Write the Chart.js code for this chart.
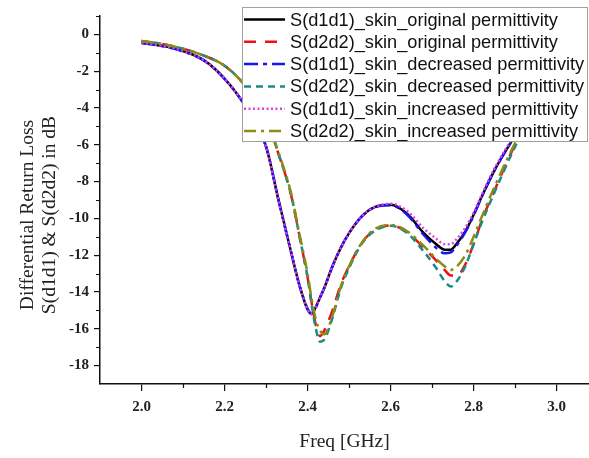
<!DOCTYPE html>
<html>
<head>
    <meta charset="utf-8">
    <title>Differential Return Loss</title>
    <script src="https://cdn.jsdelivr.net/npm/chart.js@4.4.0/dist/chart.umd.min.js"></script>
    <style>
        body { margin: 0; background: #fff; }
        #wrap { width: 589px; height: 458px; }
    </style>
</head>
<body>
    <div id="wrap"><canvas id="myChart"></canvas></div>
    <script>
        // frequency grid [GHz]
        const freq = [2.0, 2.05, 2.1, 2.15, 2.2, 2.25, 2.3, 2.33, 2.36, 2.38, 2.4, 2.41, 2.42, 2.43, 2.44, 2.46, 2.48, 2.5,
            2.53, 2.56, 2.6, 2.64, 2.68, 2.71, 2.73, 2.745, 2.76, 2.78, 2.8, 2.82, 2.85, 2.9, 2.95, 3.0];

        // S-parameters in dB
        const d1d1Original = [-0.45, -0.62, -0.9, -1.4, -2.4, -3.9, -6.1, -9.0, -11.8, -13.6, -14.95, -15.2, -14.8, -14.3, -13.8, -12.6, -11.6, -10.8,
            -9.9, -9.4, -9.26, -9.75, -10.8, -11.4, -11.7, -11.7, -11.35, -10.7, -9.8, -8.8, -7.4, -5.5, -3.7, -2.2];
        const d2d2Original = [-0.36, -0.52, -0.78, -1.15, -1.7, -2.8, -4.6, -6.5, -8.7, -10.9, -13.2, -14.6, -15.8, -16.4, -16.1, -15.0, -13.6, -12.6,
            -11.35, -10.65, -10.38, -10.75, -11.6, -12.3, -12.8, -13.1, -13.1, -12.5, -11.4, -10.1, -8.5, -6.0, -4.0, -2.4];
        const d1d1Decreased = [-0.47, -0.64, -0.92, -1.42, -2.42, -3.9, -6.1, -9.0, -11.8, -13.6, -14.9, -15.2, -14.85, -14.3, -13.8, -12.6, -11.6, -10.8,
            -9.9, -9.4, -9.28, -9.8, -10.9, -11.6, -11.9, -11.85, -11.45, -10.75, -9.85, -8.8, -7.4, -5.5, -3.7, -2.2];
        const d2d2Decreased = [-0.36, -0.52, -0.78, -1.15, -1.7, -2.8, -4.6, -6.5, -8.7, -10.9, -13.2, -14.7, -16.0, -16.7, -16.6, -15.4, -13.8, -12.7,
            -11.4, -10.7, -10.4, -10.8, -11.8, -12.7, -13.4, -13.7, -13.4, -12.6, -11.4, -10.2, -8.6, -6.1, -4.0, -2.4];
        const d1d1Increased = [-0.45, -0.62, -0.9, -1.4, -2.4, -3.9, -6.1, -9.0, -11.8, -13.6, -14.95, -15.2, -14.8, -14.3, -13.8, -12.6, -11.6, -10.8,
            -9.9, -9.4, -9.2, -9.6, -10.55, -11.1, -11.4, -11.4, -11.1, -10.5, -9.7, -8.7, -7.3, -5.4, -3.6, -2.2];
        const d2d2Increased = [-0.36, -0.52, -0.78, -1.15, -1.7, -2.8, -4.5, -6.4, -8.6, -10.8, -13.0, -14.4, -15.5, -16.1, -16.3, -15.3, -13.7, -12.6,
            -11.35, -10.6, -10.35, -10.7, -11.5, -12.2, -12.6, -12.8, -12.6, -12.0, -11.0, -9.9, -8.3, -5.9, -3.9, -2.3];

        const seriesNames = [
            'S(d1d1)_skin_original permittivity',
            'S(d2d2)_skin_original permittivity',
            'S(d1d1)_skin_decreased permittivity',
            'S(d2d2)_skin_decreased permittivity',
            'S(d1d1)_skin_increased permittivity',
            'S(d2d2)_skin_increased permittivity'
        ];
        const xTicks = [2.0, 2.2, 2.4, 2.6, 2.8, 3.0];
        const yTicks = [0, -2, -4, -6, -8, -10, -12, -14, -16, -18];

        const styles = [
            { color: '#000000', dash: [] },
            { color: '#ee1111', dash: [12, 9] },
            { color: '#1515ee', dash: [14, 5, 4, 5] },
            { color: '#1a8a8a', dash: [7, 5] },
            { color: '#e040e0', dash: [2, 2.5] },
            { color: '#8c8c14', dash: [12, 5, 3, 5] }
        ];
        const values = [d1d1Original, d2d2Original, d1d1Decreased, d2d2Decreased, d1d1Increased, d2d2Increased];

        const datasets = values.map(function (vals, i) {
            return {
                label: seriesNames[i],
                data: freq.map((f, j) => ({ x: f, y: vals[j] })),
                borderColor: styles[i].color,
                borderDash: styles[i].dash,
                borderWidth: 2.5,
                pointRadius: 0,
                fill: false,
                cubicInterpolationMode: 'monotone',
                order: 6 - i
            };
        });

        // minor ticks, y title and the boxed legend over the plot
        const decor = {
            id: 'decor',
            afterDraw(chart) {
                const ctx = chart.ctx;
                const xs = chart.scales.x, ys = chart.scales.y;
                const area = chart.chartArea;
                ctx.save();
                ctx.strokeStyle = '#111';
                ctx.lineWidth = 1.2;
                ctx.beginPath();
                [2.1, 2.3, 2.5, 2.7, 2.9].forEach(v => {
                    const px = Math.round(xs.getPixelForValue(v)) + 0.5;
                    ctx.moveTo(px, area.bottom);
                    ctx.lineTo(px, area.bottom + 4);
                });
                [1, -1, -3, -5, -7, -9, -11, -13, -15, -17].forEach(v => {
                    const py = Math.round(ys.getPixelForValue(v)) + 0.5;
                    ctx.moveTo(area.left, py);
                    ctx.lineTo(area.left - 4, py);
                });
                ctx.stroke();

                // y axis title, two lines
                ctx.fillStyle = '#222';
                ctx.font = '19.5px "Liberation Serif"';
                ctx.textAlign = 'center';
                ctx.textBaseline = 'middle';
                ctx.translate(28, 215);
                ctx.rotate(-Math.PI / 2);
                ctx.fillText('Differential Return Loss', 0, 0);
                ctx.fillText('S(d1d1) & S(d2d2) in dB', 0, 22);
                ctx.restore();

                // legend
                ctx.save();
                ctx.fillStyle = '#fff';
                ctx.fillRect(242, 7.5, 346, 134);
                ctx.strokeStyle = '#a0a0a0';
                ctx.lineWidth = 1;
                ctx.strokeRect(242.5, 7.5, 345, 134);
                chart.data.datasets.forEach(function (ds, i) {
                    const cy = 19.5 + i * 22.3;
                    ctx.strokeStyle = ds.borderColor;
                    ctx.lineWidth = ds.borderWidth;
                    ctx.setLineDash(ds.borderDash);
                    ctx.beginPath();
                    ctx.moveTo(244, cy);
                    ctx.lineTo(285, cy);
                    ctx.stroke();
                    ctx.setLineDash([]);
                    ctx.fillStyle = '#111';
                    ctx.font = '18.2px "Liberation Sans"';
                    ctx.textAlign = 'left';
                    ctx.textBaseline = 'middle';
                    ctx.fillText(ds.label, 290, cy + 1);
                });
                ctx.restore();
            }
        };

        const tickFont = { family: '"Liberation Serif"', size: 15, weight: 'bold' };

        const config = {
            type: 'line',
            data: { datasets: datasets },
            options: {
                responsive: true,
                maintainAspectRatio: false,
                animation: false,
                layout: { padding: { top: 16, right: 0, left: 0, bottom: 0 } },
                plugins: {
                    legend: { display: false },
                    tooltip: { enabled: false }
                },
                scales: {
                    x: {
                        type: 'linear',
                        min: 1.9,
                        max: 3.078,
                        afterBuildTicks: scale => { scale.ticks = xTicks.map(v => ({ value: v })); },
                        afterFit: scale => { scale.height = 74; },
                        grid: { drawOnChartArea: false, tickLength: 7, color: '#111', lineWidth: 1.2 },
                        border: { color: '#111', width: 1.5 },
                        ticks: {
                            font: tickFont, color: '#222', padding: 7, maxRotation: 0,
                            callback: v => v.toFixed(1)
                        },
                        title: {
                            display: true, text: 'Freq [GHz]', color: '#222',
                            font: { family: '"Liberation Serif"', size: 19.5 },
                            padding: { top: 0 }
                        }
                    },
                    y: {
                        type: 'linear',
                        min: -19,
                        max: 1,
                        afterBuildTicks: scale => { scale.ticks = yTicks.map(v => ({ value: v })); },
                        afterFit: scale => { scale.width = 100; },
                        grid: { drawOnChartArea: false, tickLength: 6, color: '#111', lineWidth: 1.2 },
                        border: { color: '#111', width: 1.5 },
                        ticks: { font: tickFont, color: '#222', padding: 5 }
                    }
                }
            },
            plugins: [decor]
        };

        const myChart = new Chart(document.getElementById('myChart'), config);
    </script>
</body>
</html>
